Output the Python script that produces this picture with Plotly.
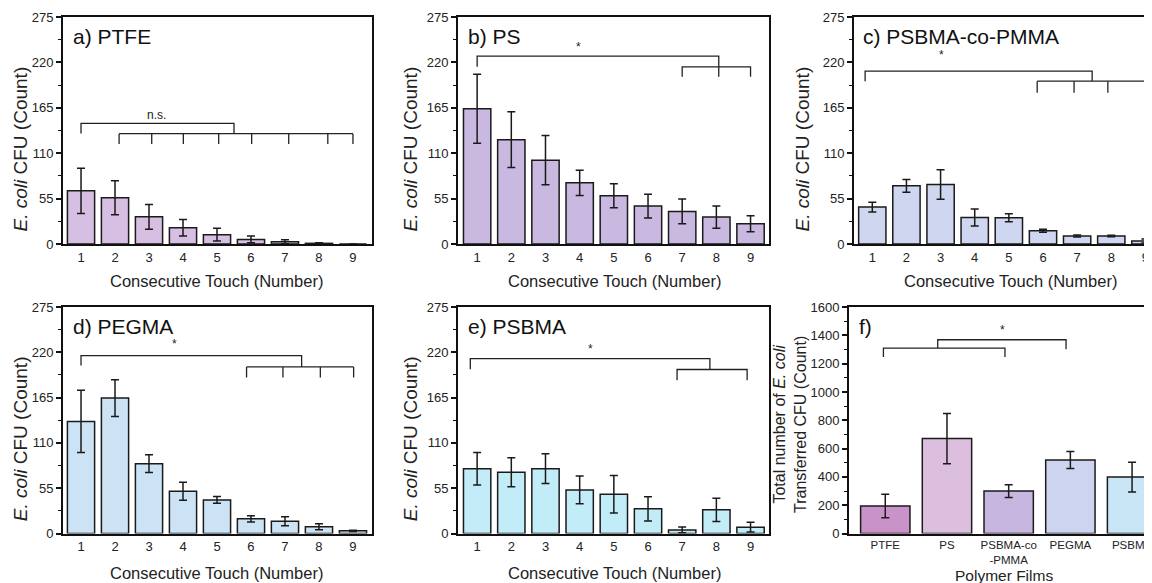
import plotly.graph_objects as go

# ---------------- data ----------------
touches = [1, 2, 3, 4, 5, 6, 7, 8, 9]

ptfe_mean = [64.4, 56.0, 33.0, 19.7, 11.3, 5.6, 2.8, 0.8, 0.0]
ptfe_err = [27.5, 20.5, 15.0, 10.0, 7.7, 4.0, 2.4, 0.8, 0.0]

ps_mean = [163.9, 126.4, 101.5, 74.1, 58.4, 45.9, 39.5, 32.6, 24.6]
ps_err = [41.7, 33.7, 29.8, 15.3, 14.5, 14.3, 14.9, 13.5, 9.7]

cop_mean = [44.7, 70.5, 72.1, 32.2, 31.8, 16.1, 9.7, 9.7, 3.6]
cop_err = [6.0, 7.7, 17.9, 10.3, 4.8, 1.8, 1.2, 1.0, 2.4]

pegma_mean = [136.1, 164.4, 84.8, 51.3, 40.8, 17.8, 14.9, 8.1, 3.2]
pegma_err = [37.7, 22.2, 10.7, 10.9, 4.0, 3.8, 5.4, 3.6, 0.8]

psbma_mean = [78.7, 74.3, 78.7, 52.9, 47.6, 29.9, 4.4, 28.7, 7.7]
psbma_err = [19.7, 17.6, 18.0, 16.8, 22.8, 14.7, 3.6, 14.1, 6.0]

films = ["PTFE", "PS", "PSBMA-co<br>-PMMA", "PEGMA", "PSBMA"]
film_pos = [1, 2, 3, 4, 5]
total_mean = [193.4, 670.2, 299.7, 519.0, 398.8]
total_err = [83.0, 177.0, 45.0, 60.0, 105.0]

y_ticks_touch = [0, 55, 110, 165, 220, 275]
y_ticks_total = [0, 200, 400, 600, 800, 1000, 1200, 1400, 1600]

# significance brackets: polylines (x list, y list) per panel
br_a = [([1, 1, 5.5, 5.5], [133.9, 146.2, 146.2, 133.7]),
        ([2.12, 9.0], [133.7, 133.7])] + \
       [([t, t], [133.7, 121.2]) for t in [2.12, 3.08, 4.01, 5.05, 6.02, 7.11, 8.26, 9.0]]
br_b = [([1, 1, 8.07, 8.07], [214.6, 227.5, 227.5, 202.5]),
        ([7, 7, 9, 9], [202.5, 214.6, 214.6, 202.5])]
br_c = [([0.79, 0.79, 7.44, 7.44], [197.3, 209.4, 209.4, 197.3]),
        ([5.83, 9.0], [197.3, 197.3])] + \
       [([t, t], [197.3, 183.2]) for t in [5.83, 6.91, 7.9, 9.0]]
br_d = [([1, 1, 7.49, 7.49], [203.9, 216, 216, 202.3]),
        ([5.87, 9.02], [202.3, 202.3])] + \
       [([t, t], [202.3, 189.4]) for t in [5.87, 6.94, 8.04, 9.02]]
br_e = [([0.8, 0.8, 7.81, 7.81], [199.5, 212.4, 212.4, 199.1]),
        ([6.85, 6.85, 8.9, 8.9], [186.2, 199.1, 199.1, 186.2])]
br_f = [([0.97, 0.97, 2.94, 2.94], [1246, 1309.7, 1309.7, 1246]),
        ([1.85, 1.85, 3.93, 3.93], [1309.7, 1368.6, 1368.6, 1302])]

sig_labels = {
    "a": ("n.s.", 3.23, 156),
    "b": ("*", 3.98, 239),
    "c": ("*", 3.04, 229),
    "d": ("*", 3.74, 230),
    "e": ("*", 4.32, 224),
    "f": ("*", 2.9, 1440),
}

# ---------------- layout geometry ----------------
# the page body adds an 8 px margin, so the figure is offset by 8 px
OFF = 8
W, H = 1152 - OFF, 583 - OFF
FONT = "Liberation Sans, Arial, sans-serif"
TXT = "#222"

def fx(px):
    return (px - OFF) / W

def fy(py):
    return 1 - (py - OFF) / H

panels = [
    # key, title, x-domain px, y-domain px (top,bottom), xrange, color, data, brackets,
    # y-title x px, x-title center x px
    ("a", "a) PTFE", (63, 372), (17, 244), [0.47, 9.56], "#d6bfe2", ptfe_mean, ptfe_err, br_a, 20, 216),
    ("b", "b) PS", (458, 769), (17, 244), [0.44, 9.54], "#c9b8e0", ps_mean, ps_err, br_b, 410, 614),
    ("c", "c) PSBMA-co-PMMA", (854, 1152), (17, 244), [0.464, 9.193], "#cfd6f0", cop_mean, cop_err, br_c, 802, 1010),
    ("d", "d) PEGMA", (63, 372), (307, 533.5), [0.47, 9.56], "#cbe3f5", pegma_mean, pegma_err, br_d, 20, 216),
    ("e", "e) PSBMA", (458, 769), (307, 533.5), [0.44, 9.54], "#c2ecf8", psbma_mean, psbma_err, br_e, 410, 614),
]

fig = go.Figure()
layout = dict(
    width=W, height=H,
    margin=dict(l=0, r=0, t=0, b=0, autoexpand=False),
    paper_bgcolor="white", plot_bgcolor="white",
    showlegend=False,
    font=dict(family=FONT, size=12, color=TXT),
    annotations=[],
)

axis_common = dict(showgrid=False, zeroline=False, linecolor="#111", linewidth=2,
                   automargin=False, ticklabeloverflow="allow",
                   tickfont=dict(family=FONT, size=13, color=TXT))

def add_brackets(brs, xa, ya):
    xs, ys = [], []
    for bx, by in brs:
        xs += list(bx) + [None]
        ys += list(by) + [None]
    fig.add_trace(go.Scatter(x=xs, y=ys, mode="lines", xaxis=xa, yaxis=ya,
                             line=dict(color=TXT, width=1.3), hoverinfo="skip"))

def paper_text(text, x_px, y_px, size, angle=0, align="center"):
    layout["annotations"].append(dict(
        text=text, xref="paper", yref="paper", x=fx(x_px), y=fy(y_px),
        xanchor="center", yanchor="middle", showarrow=False, textangle=angle,
        align=align, font=dict(family=FONT, size=size, color=TXT)))

for i, (key, title, xd, yd, xr, color, mean, err, brs, ytx, xtx) in enumerate(panels):
    n = i + 1
    xa = "x" if n == 1 else f"x{n}"
    ya = "y" if n == 1 else f"y{n}"
    xk = "xaxis" if n == 1 else f"xaxis{n}"
    yk = "yaxis" if n == 1 else f"yaxis{n}"
    fig.add_trace(go.Bar(
        x=touches, y=mean, width=0.8, xaxis=xa, yaxis=ya,
        marker=dict(color=color, line=dict(color="#1a1a1a", width=1.5)),
        error_y=dict(type="data", array=err, visible=True, color="#1a1a1a", thickness=1.5, width=4),
    ))
    add_brackets(brs, xa, ya)
    layout[xk] = dict(axis_common, domain=[fx(xd[0]), fx(xd[1])], anchor=ya, range=xr,
                      tickvals=touches, ticks="", mirror=True)
    layout[yk] = dict(axis_common, domain=[fy(yd[1]), fy(yd[0])], anchor=xa, range=[0, 275],
                      tickvals=y_ticks_touch, ticks="outside", ticklen=5, tickwidth=1.5,
                      tickcolor="#111", mirror=(key != "c"),
                      minor=dict(ticks="outside", ticklen=3, tickwidth=1, dtick=27.5, tickcolor="#111"))
    layout["annotations"].append(dict(
        text=title, xref=f"{xa} domain", yref=f"{ya} domain", x=0.025, y=0.975,
        xanchor="left", yanchor="top", showarrow=False,
        font=dict(family=FONT, size=21, color="#111")))
    s, sx, sy = sig_labels[key]
    layout["annotations"].append(dict(
        text=s, xref=xa, yref=ya, x=sx, y=sy, showarrow=False,
        font=dict(family=FONT, size=12, color=TXT)))
    top, bot = yd
    paper_text("<i>E. coli</i> CFU (Count)", ytx, (top + bot) / 2 + 19, 19, angle=-90)
    paper_text("Consecutive Touch (Number)", xtx, bot + 37 if top < 100 else 573, 16.5)

# panel f
total_colors = ["#c993c9", "#dcbfdf", "#c7b6e0", "#cdd4ef", "#c8e6f6"]
fig.add_trace(go.Bar(
    x=film_pos, y=total_mean, width=0.8, xaxis="x6", yaxis="y6",
    marker=dict(color=total_colors, line=dict(color="#1a1a1a", width=1.5)),
    error_y=dict(type="data", array=total_err, visible=True, color="#1a1a1a", thickness=1.5, width=4),
))
add_brackets(br_f, "x6", "y6")
layout["xaxis6"] = dict(axis_common, domain=[fx(849), 1.0], anchor="y6", range=[0.412, 5.323],
                        tickvals=film_pos, ticktext=films, ticks="", mirror=True,
                        tickfont=dict(family=FONT, size=11.5, color=TXT))
layout["yaxis6"] = dict(axis_common, domain=[fy(533.5), fy(307)], anchor="x6", range=[0, 1600],
                        tickvals=y_ticks_total, ticks="outside", ticklen=5, tickwidth=1.5,
                        tickcolor="#111", mirror=False,
                        minor=dict(ticks="outside", ticklen=3, tickwidth=1, dtick=100, tickcolor="#111"))
layout["annotations"].append(dict(
    text="f)", xref="x6 domain", yref="y6 domain", x=0.025, y=0.975,
    xanchor="left", yanchor="top", showarrow=False,
    font=dict(family=FONT, size=21, color="#111")))
s, sx, sy = sig_labels["f"]
layout["annotations"].append(dict(
    text=s, xref="x6", yref="y6", x=sx, y=sy, showarrow=False,
    font=dict(family=FONT, size=12, color=TXT)))
paper_text("Total number of <i>E. coli</i><br>Transferred CFU (Count)", 790, 425, 16, angle=-90)
paper_text("Polymer Films", 1004, 575, 15.5)

fig.update_layout(**layout)
fig.write_html("out.html")
